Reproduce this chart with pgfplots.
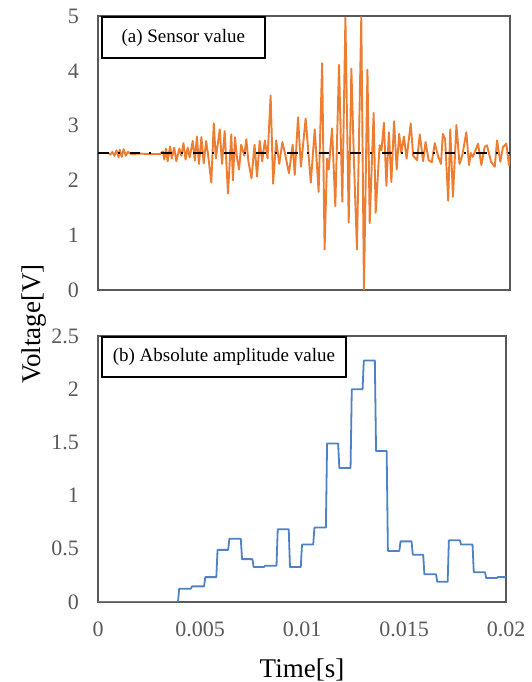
\documentclass[border=0pt]{standalone}
\usepackage{pgfplots}
\pgfplotsset{compat=1.18}
\usepackage{fontspec}
\setmainfont{Liberation Serif}
\definecolor{xlorange}{HTML}{ED7D31}
\definecolor{xlblue}{HTML}{4F81C7}
\definecolor{tickgray}{HTML}{595959}
\definecolor{framegray}{HTML}{595959}
\pgfplotsset{
  myaxis/.style={
    scale only axis,
    anchor=south west,
    xmin=0, xmax=20,
    axis line style={draw=framegray, line width=1.2pt},
    major tick length=0pt,
    tick style={draw=none},
    ticklabel style={font=\fontsize{22}{24}\selectfont, text=tickgray},
    yticklabel style={inner sep=0pt, xshift=-19pt},
    xticklabel style={inner sep=0pt, yshift=-20pt},
    /pgf/number format/assume math mode=true,
  }
}
\begin{document}
\begin{tikzpicture}
\useasboundingbox (0,0) rectangle (532pt,682pt);
% ---------- (a) sensor value ----------
\begin{axis}[myaxis,
  at={(98pt,392pt)}, width=412pt, height=274pt,
  ymin=0, ymax=5,
  ytick={0,1,2,3,4,5}, yticklabels={0,1,2,3,4,5},
  xtick={0,5,10,15,20}, xticklabels={},
]
\addplot[xlorange, line width=1.9pt, line join=round] coordinates {
(0,2.5) (0.5,2.5) (0.6,2.47) (0.7,2.52) (0.8,2.45) (0.9,2.55) (1.0,2.42) (1.05,2.56)
(1.15,2.43) (1.25,2.57) (1.35,2.45) (1.45,2.52) (1.6,2.48) (2.0,2.49) (2.5,2.48) (3.0,2.48)
(3.15,2.53) (3.22,2.38) (3.3,2.58) (3.38,2.35) (3.5,2.62) (3.58,2.4) (3.7,2.6) (3.8,2.35)
(3.95,2.58) (4.05,2.45) (4.15,2.68) (4.25,2.38) (4.35,2.6) (4.45,2.42) (4.6,2.72) (4.7,2.36)
(4.8,2.8) (4.9,2.3) (5.02,2.79) (5.13,2.31) (5.25,2.72) (5.35,2.45) (5.5,1.96) (5.62,3.04)
(5.72,2.4) (5.91,2.93) (6.02,2.3) (6.15,2.9) (6.31,1.76) (6.47,2.84) (6.55,2.0) (6.65,2.79)
(6.75,2.4) (6.85,2.2) (6.95,2.65) (7.1,2.45) (7.2,2.75) (7.3,2.35) (7.45,2.04) (7.6,2.65)
(7.72,2.07) (7.85,2.72) (7.97,2.35) (8.1,2.73) (8.23,2.4) (8.38,3.55) (8.5,1.94) (8.65,2.73)
(8.8,2.3) (8.95,2.7) (9.1,2.45) (9.27,2.13) (9.45,2.65) (9.55,2.1) (9.71,3.15) (9.85,2.25)
(10.08,3.13) (10.33,1.96) (10.52,2.93) (10.71,1.79) (10.88,4.14) (11.0,0.74) (11.12,2.4) (11.2,2.2)
(11.36,2.95) (11.52,1.53) (11.7,4.11) (11.86,1.61) (12.01,4.97) (12.17,1.23) (12.3,4.04) (12.42,2.4)
(12.57,0.74) (12.78,4.98) (12.91,0.0) (13.08,4.02) (13.19,1.22) (13.38,3.23) (13.48,1.41) (13.67,2.64)
(13.76,2.55) (13.88,3.05) (14.0,1.9) (14.12,2.88) (14.24,1.97) (14.37,3.08) (14.5,2.2) (14.62,2.85)
(14.72,2.5) (14.85,2.8) (14.98,2.4) (15.18,3.04) (15.3,2.45) (15.49,2.37) (15.62,2.84) (15.78,2.35)
(15.9,2.7) (16.05,2.37) (16.2,2.33) (16.35,2.68) (16.5,2.45) (16.65,2.3) (16.74,2.85) (16.85,2.75)
(17.0,1.63) (17.1,2.93) (17.23,1.7) (17.4,3.01) (17.55,2.3) (17.68,2.45) (17.88,2.88) (18.01,2.28)
(18.1,2.5) (18.2,2.43) (18.45,2.67) (18.61,2.28) (18.77,2.61) (18.88,2.64) (19.08,2.34) (19.26,2.25)
(19.37,2.73) (19.53,2.34) (19.66,2.61) (19.82,2.67) (19.95,2.28) (20.0,2.45)
};
\addplot[black, line width=2.8pt, dash pattern=on 10.5pt off 9pt on 2pt off 10pt] coordinates {(0,2.5) (20,2.5)};
\end{axis}
% ---------- (b) absolute amplitude ----------
\begin{axis}[myaxis,
  at={(98pt,80pt)}, width=408pt, height=266pt,
  ymin=0, ymax=2.5,
  ytick={0,0.5,1,1.5,2,2.5}, yticklabels={0,0.5,1,1.5,2,2.5},
  xtick={0,5,10,15,20}, xticklabels={0,0.005,0.01,0.015,0.02},
]
\addplot[xlblue, line width=1.8pt, line join=round] coordinates {
(0,0) (3.92,0) (3.98,0.125) (4.55,0.125) (4.61,0.147) (5.2,0.147) (5.26,0.234) (5.8,0.234)
(5.86,0.49) (6.38,0.49) (6.44,0.594) (7.0,0.594) (7.06,0.403) (7.57,0.403) (7.63,0.328) (8.13,0.328)
(8.19,0.34) (8.75,0.34) (8.81,0.684) (9.35,0.684) (9.41,0.328) (9.94,0.328) (10.0,0.54) (10.55,0.54)
(10.61,0.70) (11.17,0.70) (11.23,1.49) (11.77,1.49) (11.83,1.26) (12.38,1.26) (12.44,2.0) (12.97,2.0)
(13.03,2.27) (13.57,2.27) (13.63,1.42) (14.15,1.42) (14.21,0.48) (14.77,0.48) (14.83,0.57) (15.37,0.57)
(15.43,0.444) (15.94,0.444) (16.0,0.26) (16.57,0.26) (16.63,0.19) (17.14,0.19) (17.2,0.58) (17.74,0.58)
(17.8,0.54) (18.36,0.54) (18.42,0.28) (18.97,0.28) (19.03,0.225) (19.54,0.225) (19.6,0.234) (20,0.234)
};
\end{axis}
% annotation boxes
\draw[black, line width=1.8pt, fill=white] (101.7pt,623.7pt) rectangle (265pt,665.3pt);
\node[font=\fontsize{19}{21}\selectfont, text=black] at (183.3pt,644.5pt) {(a) Sensor value};
\draw[black, line width=1.8pt, fill=white] (101.7pt,304.7pt) rectangle (346pt,345.3pt);
\node[font=\fontsize{19}{21}\selectfont, text=black] at (223.9pt,325pt) {(b) Absolute amplitude value};
% axis titles
\node[font=\fontsize{27}{30}\selectfont, rotate=90, anchor=base] at (40pt,358pt) {Voltage[V]};
\node[font=\fontsize{27}{30}\selectfont, anchor=base] at (302pt,5pt) {Time[s]};
\end{tikzpicture}
\end{document}
